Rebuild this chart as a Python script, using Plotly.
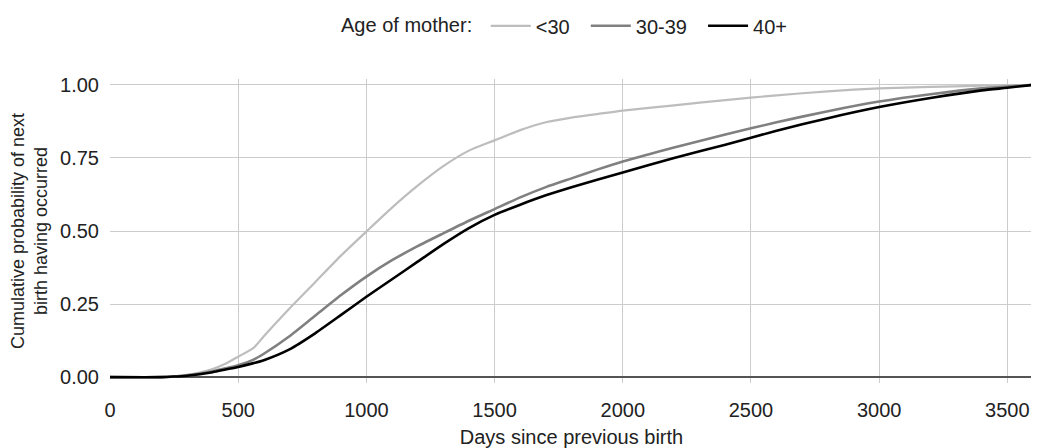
import plotly.graph_objects as go

days = [0, 200, 250, 300, 350, 400, 450, 500, 560, 600, 700, 800, 900, 1000, 1100, 1200,
        1300, 1400, 1500, 1600, 1700, 1800, 1900, 2000, 2200, 2400, 2600, 2800, 3000,
        3200, 3400, 3500, 3600]

under30 = [0, 0, 0.003, 0.008, 0.016, 0.028, 0.046, 0.070, 0.100, 0.140, 0.235, 0.325,
           0.415, 0.498, 0.580, 0.655, 0.722, 0.775, 0.810, 0.845, 0.872, 0.888, 0.900,
           0.912, 0.930, 0.948, 0.964, 0.978, 0.988, 0.993, 0.997, 0.998, 1.0]

age30_39 = [0, 0, 0.002, 0.006, 0.012, 0.020, 0.030, 0.041, 0.060, 0.080, 0.140, 0.210,
            0.280, 0.344, 0.400, 0.448, 0.492, 0.535, 0.575, 0.615, 0.650, 0.680, 0.710,
            0.738, 0.786, 0.830, 0.872, 0.910, 0.943, 0.968, 0.988, 0.994, 1.0]

age40 = [0, 0, 0.002, 0.005, 0.010, 0.017, 0.026, 0.035, 0.048, 0.058, 0.095, 0.150,
         0.212, 0.275, 0.335, 0.395, 0.455, 0.510, 0.555, 0.590, 0.622, 0.650, 0.675,
         0.700, 0.750, 0.795, 0.843, 0.886, 0.924, 0.955, 0.981, 0.990, 1.0]

series = [("<30", under30, "#bdbdbd", 2.2),
          ("30-39", age30_39, "#808080", 2.6),
          ("40+", age40, "#000000", 2.6)]

x_ticks = [0, 500, 1000, 1500, 2000, 2500, 3000, 3500]
y_ticks = [0, 0.25, 0.5, 0.75, 1.0]
y_labels = ["0.00", "0.25", "0.50", "0.75", "1.00"]

fig = go.Figure()
for name, vals, color, w in series:
    fig.add_trace(go.Scatter(x=days, y=vals, mode="lines", name=name + "\u00a0\u00a0",
                             line=dict(color=color, width=w, shape="spline", smoothing=0.6)))

font = "Liberation Sans, Arial, Helvetica, sans-serif"
# page body has an 8px default margin, so the figure is sized to fit the window
fig.update_layout(
    width=1031, height=440,
    margin=dict(l=102, r=6, t=71, b=65, autoexpand=False),
    paper_bgcolor="white", plot_bgcolor="white",
    font=dict(family=font, size=20, color="#222222"),
    showlegend=True,
    legend=dict(orientation="h", x=0.5, xanchor="center", y=1.175, yanchor="middle",
                title=dict(text="Age of mother:\u00a0", side="left", font=dict(size=20)),
                font=dict(size=20), itemwidth=40, bgcolor="rgba(0,0,0,0)"),
    xaxis=dict(range=[0, 3600], tickvals=x_ticks, showgrid=True, gridcolor="#cccccc",
               gridwidth=1.3, zeroline=False, ticks="outside", ticklen=9,
               tickcolor="rgba(0,0,0,0)", showline=False, automargin=False,
               title=dict(text="Days since previous birth", font=dict(size=20), standoff=16),
               tickfont=dict(size=20, color="#222222")),
    yaxis=dict(range=[-0.02, 1.02], tickvals=y_ticks, ticktext=y_labels, showgrid=True,
               gridcolor="#cccccc", gridwidth=1.3, zeroline=True, zerolinecolor="#555555",
               zerolinewidth=2.2, ticks="outside", ticklen=6, tickcolor="rgba(0,0,0,0)",
               showline=False, automargin=False,
               title=dict(text="Cumulative probability of next<br>birth having occurred",
                          font=dict(size=18), standoff=8),
               tickfont=dict(size=20, color="#222222")),
)

fig.write_html("out.html")
